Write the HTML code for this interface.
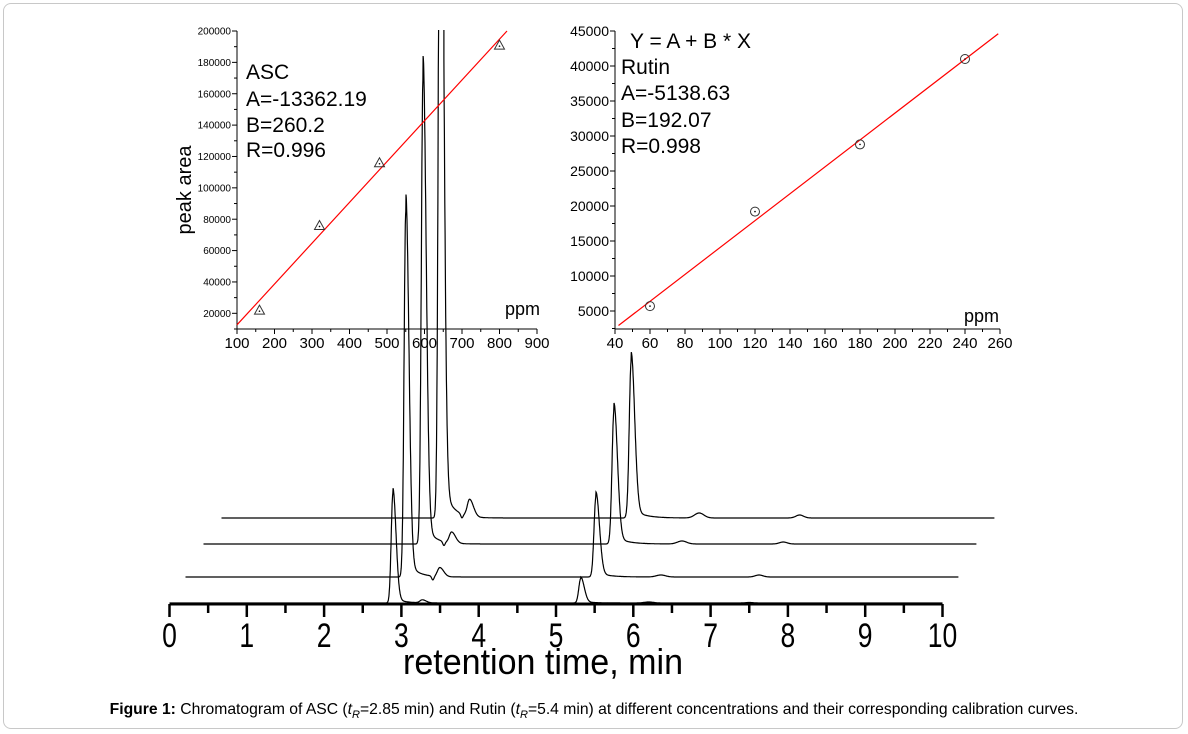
<!DOCTYPE html>
<html><head><meta charset="utf-8"><style>
html,body{margin:0;padding:0;background:#fff;}
#wrap{position:relative;width:1188px;height:734px;overflow:hidden;font-family:"Liberation Sans",sans-serif;}
#frame{position:absolute;left:3px;top:3px;width:1180px;height:726px;border:1px solid #c8c8c8;border-radius:8px;box-sizing:border-box;}
#caption{position:absolute;left:0;width:1188px;top:701px;text-align:center;font-size:15.7px;color:#000;white-space:nowrap;}
svg{position:absolute;left:0;top:0;}
</style></head><body>
<div id="wrap">
<div id="frame"></div>
<svg id="chart" width="1188" height="734"></svg>
<div id="caption"><b>Figure 1:</b> Chromatogram of ASC (<i>t</i><sub style="font-size:11px"><i>R</i></sub>=2.85 min) and Rutin (<i>t</i><sub style="font-size:11px"><i>R</i></sub>=5.4 min) at different concentrations and their corresponding calibration curves.</div>
</div>
<script>
// ---- chromatogram data ----
const ascRT = [2.89, 2.85, 2.84, 2.83];
const ascHeight = [115, 384, 489, 900];
const rutinRT = [5.32, 5.31, 5.31, 5.30];
const rutinHeight = [26, 85, 141, 166];
const dipRT = [3.20, 3.20, 3.11, 3.11];
const dipDepth = [0, 4, 4, 4];
const bumpRT = [3.27, 3.29, 3.21, 3.21];
const bumpHeight = [3, 9, 11, 17];
const minor1RT = [6.2, 6.15, 6.19, 6.18];
const minor1Height = [1, 2, 3, 5];
const minor2RT = [7.5, 7.42, 7.5, 7.48];
const minor2Height = [0.5, 2, 2, 3];
const timeTicks = [0,1,2,3,4,5,6,7,8,9,10];
// ---- ASC calibration ----
const ascConc = [160, 320, 480, 800];
const ascArea = [22000, 76000, 116000, 191000];
const ascA = -13362.19, ascB = 260.2;
const ascXTicks = [100,200,300,400,500,600,700,800,900];
const ascYTicks = [20000,40000,60000,80000,100000,120000,140000,160000,180000,200000];
// ---- Rutin calibration ----
const rutConc = [60, 120, 180, 240];
const rutArea = [5700, 19200, 28800, 41000];
const rutA = -5138.63, rutB = 192.07;
const rutXTicks = [40,60,80,100,120,140,160,180,200,220,240,260];
const rutYTicks = [5000,10000,15000,20000,25000,30000,35000,40000,45000];

const NS = "http://www.w3.org/2000/svg";
const svg = document.getElementById('chart');
function mk(tag, attrs, parent){const e=document.createElementNS(NS,tag);for(const k in attrs)e.setAttribute(k,attrs[k]);(parent||svg).appendChild(e);return e;}

const X0=169.5, PXMIN=77.3, AXY=604;
const tx = t => X0 + t*PXMIN;
const offX=[0,16,34,52], offY=[0,-26,-59,-85];
function peak(t, rt, h, sl, sr){const s=t<rt?sl:sr;return h*Math.exp(-0.5*((t-rt)/s)**2);}
function tailv(t, rt, h, tau){return t>rt? h*Math.exp(-(t-rt)/tau):0;}

const gTr = mk('g',{},svg);


for(let i=0;i<4;i++){
  let d='';
  let pen=false;
  const base = 603+offY[i];
  const aH = ascHeight[i]/1.05, rH = rutinHeight[i]/1.06;
  for(let t=0;t<=10.001;t+=0.003){
    let v = peak(t,ascRT[i],aH,0.022,0.04)+tailv(t,ascRT[i],aH*0.05,0.12)
      - peak(t,dipRT[i],dipDepth[i],0.015,0.015)
      + peak(t,bumpRT[i],bumpHeight[i],0.03,0.05)
      + peak(t,rutinRT[i],rH,0.025,0.045)+tailv(t,rutinRT[i],rH*0.06,0.15)
      + peak(t,minor1RT[i],minor1Height[i],0.06,0.06)
      + peak(t,minor2RT[i],minor2Height[i],0.05,0.05);
    let y = base - v;
    const x = tx(t)+offX[i];
    if(y<30){
      if(pen){d+='L'+x.toFixed(1)+',30';pen=false;}
      continue;
    }
    if(i===2 && y<56) y=56;
    if(!pen && d){d+='M'+x.toFixed(1)+',30L'+x.toFixed(1)+','+y.toFixed(1);pen=true;continue;}
    d += (pen?'L':'M')+x.toFixed(1)+','+y.toFixed(1);
    pen=true;
  }
  const p = mk('path',{d:d,fill:'none',stroke:'#000','stroke-width':1.2},gTr);
  
  
}
const ax = mk('line',{x1:X0,y1:AXY,x2:tx(10),y2:AXY,stroke:'#000','stroke-width':3});


for(let k=0;k<=20;k++){
  const x=tx(k/2);
  mk('line',{x1:x,y1:AXY,x2:x,y2:AXY+(k%2?9:13),stroke:'#000','stroke-width':2.5});
}
timeTicks.forEach(v=>{
  const t=mk('text',{x:tx(v),y:647,'font-size':34,'text-anchor':'middle','font-family':'Liberation Sans, sans-serif',transform:`translate(${tx(v)},0) scale(0.78,1) translate(${-tx(v)},0)`});
  t.textContent=v;
  
  
});
const xt=mk('text',{x:403,y:674,'font-size':36,'font-family':'Liberation Sans, sans-serif',textLength:280,lengthAdjust:'spacingAndGlyphs'});
xt.textContent='retention time, min';



function inset(o){
  const g=mk('g',{});
  
  
  const sx=v=>o.x0+(v-o.xmin)/(o.xmax-o.xmin)*(o.x1-o.x0);
  const sy=v=>o.yb-(v-o.ymin)/(o.ymax-o.ymin)*(o.yb-o.yt);
  mk('line',{x1:o.x0,y1:o.yb,x2:o.x1,y2:o.yb,stroke:'#000','stroke-width':1},g);
  mk('line',{x1:o.x0,y1:o.yt,x2:o.x0,y2:o.yb,stroke:'#000','stroke-width':1},g);
  o.xt.forEach((v,i)=>{
    const x=sx(v);
    mk('line',{x1:x,y1:o.yb,x2:x,y2:o.yb+5,stroke:'#000'},g);
    if(i<o.xt.length-1){const xm=sx(v+o.xstep/2);mk('line',{x1:xm,y1:o.yb,x2:xm,y2:o.yb+3,stroke:'#000'},g);}
    const t=mk('text',{x:x,y:o.yb+19,'font-size':o.xfs,'text-anchor':'middle'},g);
    t.textContent=v;
    
    
  });
  o.yt2.forEach((v,i)=>{
    const y=sy(v);
    mk('line',{x1:o.x0-5,y1:y,x2:o.x0,y2:y,stroke:'#000'},g);
    const ym=sy(v-o.ystep/2); if(ym<=o.yb) mk('line',{x1:o.x0-3,y1:ym,x2:o.x0,y2:ym,stroke:'#000'},g);
    const t=mk('text',{x:o.x0-6,y:y+o.yfs*0.36,'font-size':o.yfs,'text-anchor':'end'},g);
    t.textContent=v;
    
    
  });
  const fl=mk('line',{x1:sx(o.fx0),y1:sy(o.A+o.B*o.fx0),x2:sx(o.fx1),y2:sy(o.A+o.B*o.fx1),stroke:'#ff0000','stroke-width':1.2},g);
  
  
  o.px.forEach((v,i)=>{
    const x=sx(v),y=sy(o.py[i]);
    let m;
    if(o.marker==='tri') m=mk('polygon',{points:`${x},${y-5} ${x-5},${y+4} ${x+5},${y+4}`,fill:'none',stroke:'#333','stroke-width':1},g);
    else m=mk('circle',{cx:x,cy:y,r:4.5,fill:'none',stroke:'#333','stroke-width':1},g);
    mk('circle',{cx:x,cy:y+(o.marker==='tri'?1:0),r:0.8,fill:'#000'},g);
    
    
  });
  o.lines.forEach(l=>{const t=mk('text',{x:l[0],y:l[1],'font-size':l[3]||21},g);t.textContent=l[2];
    
    });
  const pp=mk('text',{x:o.ppmx,y:o.ppmy,'font-size':18},g);pp.textContent='ppm';
  
  
  return g;
}
inset({name:'asc-calibration-inset',x0:237,x1:537,yt:31,yb:329,xmin:100,xmax:900,ymin:10000,ymax:200000,
  xt:ascXTicks,xstep:100,yt2:ascYTicks,ystep:20000,xfs:15,yfs:10,
  A:ascA,B:ascB,fx0:100,fx1:820,px:ascConc,py:ascArea,marker:'tri',
  lines:[[246,79,'ASC'],[246,106,'A=-13362.19'],[246,132,'B=260.2'],[246,157,'R=0.996']],ppmx:505,ppmy:315});
inset({name:'rutin-calibration-inset',x0:615,x1:1000,yt:31,yb:329,xmin:40,xmax:260,ymin:2430,ymax:45000,
  xt:rutXTicks,xstep:20,yt2:rutYTicks,ystep:5000,xfs:15,yfs:14,
  A:rutA,B:rutB,fx0:42,fx1:259,px:rutConc,py:rutArea,marker:'circ',
  lines:[[630,48,'Y = A + B * X'],[621,74,'Rutin'],[621,100,'A=-5138.63'],[621,127,'B=192.07'],[621,153,'R=0.998']],ppmx:964,ppmy:322});
svg.querySelectorAll('text').forEach(e=>{if(!e.getAttribute('font-family'))e.setAttribute('font-family','Liberation Sans, sans-serif');});
const yl=mk('text',{x:0,y:0,'font-size':20,'text-anchor':'middle',transform:'translate(191,190) rotate(-90)','font-family':'Liberation Sans, sans-serif'});
yl.textContent='peak area';


</script>
</body></html>
